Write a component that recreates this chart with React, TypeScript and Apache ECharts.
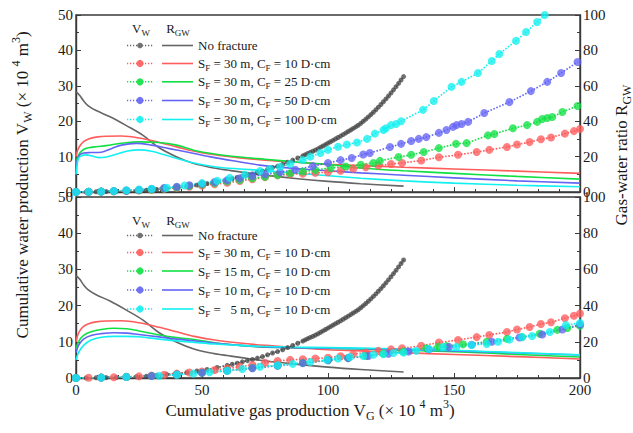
import React, { useEffect, useRef } from "react";
import * as echarts from "echarts";

const FONT = "Liberation Serif";
const TXT = "#1a1a1a";

// ---------- data (V_G in 10^4 m^3) ----------
// No fracture (shared by both panels)
const grayW = [[0,0],[4,0.02],[8,0.06],[12,0.1],[16,0.16],[20,0.25],[24,0.36],[28,0.5],[32,0.72],[36,1.0],[40,1.3],[44,1.55],[48,1.95],[52,2.35],[56,2.9],[60,3.5],[62,3.8],[64,4.1],[66,4.45],[68,4.8],[70,5.1],[72,5.5],[74,5.9],[76,6.4],[78,6.9],[80,7.3],[82,7.8],[84,8.4],[86,9.0],[88,9.6],[90,10.2],[91,10.55],[92,10.9],[93,11.2],[94,11.5],[95,11.85],[96,12.2],[97,12.6],[98,13.0],[99,13.4],[100,13.8],[101,14.2],[102,14.6],[103,15.0],[104,15.4],[105,15.8],[106,16.22],[107,16.65],[108,17.08],[109,17.52],[110,17.96],[111,18.4],[112,18.86],[113,19.4],[114,19.98],[115,20.58],[116,21.2],[117,21.85],[118,22.53],[119,23.23],[120,23.96],[121,24.71],[122,25.49],[123,26.29],[124,27.12],[125,27.97],[126,28.85],[127,29.75],[128,30.68],[129,31.63],[130,32.6]];
const grayR = [[0,56.5],[0.5,56],[1.5,54.5],[3,51.5],[5,48.5],[8,46],[13.5,42.5],[20,37.5],[26.6,32],[33,25],[40,19.8],[46.5,16.2],[53,14],[60,12.4],[73,9.8],[86,7.8],[100,6],[113,4.7],[130,3.3]];

// S_F = 30 m, C_F = 10 D·cm (shared by both panels)
const redW = [[0,0],[5,0.05],[10,0.1],[15,0.2],[20,0.3],[25,0.45],[30,0.65],[35,0.9],[40,1.2],[45,1.5],[50,1.8],[55,2.2],[60,2.6],[65,3.1],[70,3.6],[75,4.2],[80,4.7],[85,5.0],[90,5.2],[95,5.4],[100,5.6],[105,6.0],[110,6.6],[115,7.0],[120,7.5],[125,7.9],[129.4,8.2],[137,8.9],[144,9.8],[151.6,10.5],[159,11.3],[164,11.9],[171,12.7],[175,13.4],[180,14.1],[184.5,14.9],[188.5,15.4],[194,16.5],[197.6,17.2],[200,17.8]];
const redR = [[0,20],[0.5,23],[1.5,26],[3,28.5],[5,30],[8,31],[12,31.5],[18,31.6],[25,30.5],[33,28],[40,25.5],[47,23],[55,21],[65,19.3],[75,18],[87,16.8],[100,15.6],[113,15],[130,14],[150,13],[175,11.8],[200,10.5]];

// top panel: C_F = 25, 50, 100 D·cm
const green25W = [[0,0],[5,0.05],[10,0.1],[15,0.2],[20,0.35],[25,0.5],[30,0.7],[35,1],[40,1.3],[45,1.7],[50,2.1],[55,2.5],[60,3],[65,3.4],[70,3.9],[75,4.3],[80,4.8],[85,5.3],[90,5.8],[95,6.2],[101,6.8],[107,7.2],[113,7.7],[118,8.2],[120.6,8.8],[128,9.9],[133,10.5],[138,11.3],[144,12.4],[150.8,13.6],[155,13.8],[163.5,16],[166,16.4],[173.4,18],[179,18.9],[183,19.8],[185,20.6],[187,20.9],[189,21.2],[193,22.6],[199,24.3]];
const green25R = [[0,16],[0.5,19],[1.5,22],[3,24],[5,25],[8,25.6],[12,26.2],[18,27.5],[25,28.3],[33,28],[40,26.5],[47,23.5],[55,21.5],[65,19.8],[75,18.5],[87,17],[100,15.5],[113,13.6],[130,12],[150,10.5],[175,8.8],[200,7.3]];
const blue50W = [[0,0],[5,0.05],[10,0.12],[15,0.25],[20,0.4],[25,0.6],[30,0.85],[35,1.15],[40,1.5],[45,1.9],[50,2.3],[55,2.8],[60,3.3],[65,3.9],[70,4.5],[75,5],[81,5.6],[87,6.3],[94,7.3],[100,8.2],[105,9],[109.4,9.6],[114,10.6],[116.6,11],[124.6,12.7],[129,13.6],[133,14.4],[136,15],[139,15.5],[144,16.7],[147,17.5],[149.6,18.4],[151,18.9],[153,19.2],[155.6,19.8],[162,22.3],[172,25.4],[180.5,28.5],[187,31.1],[192.5,33.6],[199,36.7]];
const blue50R = [[0,14],[0.5,18],[1.5,21],[3,22],[6,22.3],[10,22.5],[14,24.5],[18,26.5],[24,27.5],[30,26.5],[37,24.5],[45,22.3],[53,20],[63,17.5],[73,15.2],[87,13.3],[100,12],[113,10.8],[130,9.5],[150,8],[175,6.3],[200,5]];
const cyan100W = [[0,0],[5,0.05],[10,0.15],[15,0.3],[20,0.5],[25,0.7],[30,0.9],[36,1.2],[43,1.8],[50,2.5],[56,3.2],[61,4],[67,4.9],[73,5.9],[77,6.5],[81,7.1],[85,7.9],[90,9],[93,10],[97,11],[100,11.9],[104,12.8],[107.5,13.4],[111.5,14],[115.5,15],[118.6,16.5],[122,17.5],[123,18],[125,18.9],[127,19.2],[129,20],[137.7,23.2],[142,25.7],[149,29.7],[153,31.1],[159.5,33.6],[165,37],[168,39],[174.6,42.7],[178.6,45.2],[183,48],[186,50],[190,52.5]];
const cyan100R = [[0,10],[0.5,16],[1,19],[2,20.3],[4,21],[6,20.5],[9,19.4],[12,19.8],[16,21.3],[20,23],[25,23.8],[30,23],[35,21],[45,17],[55,14.3],[65,13],[73,12.3],[90,10.3],[113,7.8],[130,6.3],[150,5],[175,3.8],[200,3]];

// bottom panel: C_F = 10 D·cm, S_F = 15, 10, 5 m
const green15W = [[0,0],[10,0.1],[20,0.3],[30,0.55],[40,0.95],[50,1.45],[60,2.05],[70,2.75],[80,3.45],[90,4.15],[100,4.9],[108,5.5],[115,6.1],[122,6.7],[130,7.3],[139,8.2],[143.7,8.6],[147,8.8],[153.6,9.3],[163,10],[171,10.8],[177,11.3],[184,12.2],[191,13.3],[195,13.8],[200,14.4]];
const green15R = [[0,16],[1,20],[3,23.5],[6,25.5],[10,26.8],[15,27.5],[20,27.2],[25,26],[33,23.8],[40,22.3],[47,21.3],[55,19.5],[65,18],[73,17.2],[85,16.8],[100,16.4],[113,16],[130,15.3],[150,14.5],[175,13],[200,11.6]];
const blue10W = [[0,0],[10,0.1],[20,0.28],[30,0.55],[40,0.95],[50,1.45],[60,2],[70,2.7],[80,3.4],[90,4.1],[100,4.9],[108,5.5],[116,6.1],[124,6.7],[132,7.3],[140,7.9],[148,8.6],[157,9.2],[165,10],[176,11.2],[185,12],[193,13.4],[200,14.8]];
const blue10R = [[0,14],[1,18],[3,21.5],[6,23.5],[10,24.5],[15,25],[20,24.8],[25,24],[33,22.7],[40,21.5],[47,20.5],[55,19.3],[65,18],[73,17.3],[85,16.8],[100,16.5],[113,16.2],[130,15.7],[150,15],[175,13.8],[200,12.7]];
const cyan5W = [[0,0],[10,0.1],[20,0.28],[33,0.6],[40,0.9],[46.6,1.2],[53,1.6],[60,2],[66,2.5],[73,3.1],[80,3.5],[86,3.9],[93,4.4],[99.6,5],[104,5.4],[108.7,5.8],[114,6.1],[118,6.4],[122,6.6],[126,6.9],[130,7],[135,7.5],[140,8],[145.6,8.6],[151,8.6],[157,9.1],[163,9.4],[167.5,10],[172,10.6],[177,11.3],[181,11.6],[188,12.7],[194.4,14.6],[200,15.2]];
const cyan5R = [[0,10],[1,14],[3,18],[6,21],[10,22.5],[15,23],[20,23],[25,22.8],[33,21.5],[40,20.5],[47,19.7],[55,18.8],[65,18],[73,17.5],[85,17.1],[100,16.8],[113,16.5],[130,16],[150,15.3],[175,14],[200,12.8]];

const xTicks = { min: 0, max: 200, interval: 50 };
const leftTicks = { min: 0, max: 50, interval: 10 };
const rightTicks = { min: 0, max: 100, interval: 20 };

const topCases = [["30", "10"], ["30", "25"], ["30", "50"], ["30", "100"]];
const bottomCases = [["30", "10"], ["15", "10"], ["10", "10"], ["\u00a0\u00a05", "10"]];

const GRAY = "#666666";
const RED = "#ff5c5c";
const GREEN = "#11e044";
const BLUE = "#6464f5";
const CYAN = "#12f0f0";

const richSmall = {
  n: { fontSize: 13, fontFamily: FONT, fill: TXT, lineHeight: 18 },
  s: { fontSize: 9, fontFamily: FONT, fill: TXT, verticalAlign: "bottom" },
};
const richTitle = {
  n: { fontSize: 17, fontFamily: FONT, fill: TXT, lineHeight: 24 },
  s: { fontSize: 12, fontFamily: FONT, fill: TXT, verticalAlign: "bottom" },
  p: { fontSize: 12, fontFamily: FONT, fill: TXT, verticalAlign: "top" },
};

function caseText(sf: string, cf: string) {
  return `{n|S}{s|F}{n| = ${sf} m, C}{s|F}{n| = ${cf} D·cm}`;
}

function legendBlock(headerY: number, rowYs: number[], labels: string[], colors: string[]) {
  const els: any[] = [];
  els.push({ type: "text", x: 141, y: headerY, style: { text: "{n|V}{s|W}", rich: richSmall, fontFamily: FONT, align: "center", verticalAlign: "middle" } });
  els.push({ type: "text", x: 178, y: headerY, style: { text: "{n|R}{s|GW}", rich: richSmall, fontFamily: FONT, align: "center", verticalAlign: "middle" } });
  rowYs.forEach((y, i) => {
    const c = colors[i];
    els.push({ type: "line", shape: { x1: 127, y1: y, x2: 153, y2: y }, style: { stroke: c, lineWidth: 1.5, lineDash: [1.2, 1.8] } });
    els.push({ type: "circle", shape: { cx: 140, cy: y, r: i === 0 ? 2.8 : 3.6 }, style: { fill: c, opacity: 0.9 } });
    els.push({ type: "line", shape: { x1: 162, y1: y, x2: 193, y2: y }, style: { stroke: c, lineWidth: 1.6 } });
    els.push({ type: "text", x: 198, y: y, style: { text: labels[i], rich: richSmall, fontFamily: FONT, align: "left", verticalAlign: "middle" } });
  });
  return els;
}

export default function App() {
  const ref = useRef<HTMLDivElement>(null);
  useEffect(() => {
    if (!ref.current) return;
    const chart = echarts.init(ref.current, null, { renderer: "svg" });
    const axisLineStyle = { color: "#3a3a3a", width: 1.4 };
    const xAxisBase = (gi: number, showLabel: boolean) => ({
      type: "value", gridIndex: gi, ...xTicks,
      axisLine: { show: true, onZero: false, lineStyle: axisLineStyle },
      axisTick: { show: true, inside: true, length: 5, lineStyle: { color: "#3a3a3a" } },
      minorTick: { show: true, splitNumber: 6, length: 3, lineStyle: { color: "#3a3a3a" } },
      splitLine: { show: false },
      axisLabel: { show: showLabel, fontSize: 15, fontFamily: FONT, color: TXT, margin: 4 },
    });
    const yAxisBase = (gi: number, pos: string, ticks: any) => ({
      type: "value", gridIndex: gi, position: pos, ...ticks,
      axisLine: { show: true, onZero: false, lineStyle: axisLineStyle },
      axisTick: { show: true, inside: true, length: 5, lineStyle: { color: "#3a3a3a" } },
      minorTick: { show: true, splitNumber: 2, length: 3, lineStyle: { color: "#3a3a3a" } },
      splitLine: { show: false },
      axisLabel: { fontSize: 15, fontFamily: FONT, color: TXT, margin: 3 },
    });
    const wS = (data: number[][], color: string, xi: number, yi: number, size: number, z: number) => ({
      type: "line", data, xAxisIndex: xi, yAxisIndex: yi, symbol: "circle", symbolSize: size, showSymbol: true,
      lineStyle: { type: "dotted", width: 1.6, color }, itemStyle: { color, opacity: 0.78 }, z, silent: true,
    });
    const rS = (data: number[][], color: string, xi: number, yi: number, z: number) => ({
      type: "line", data, xAxisIndex: xi, yAxisIndex: yi, symbol: "none", smooth: 0.35,
      lineStyle: { width: 1.6, color }, z, silent: true,
    });
    const titleX = "{n|Cumulative gas production V}{s|G}{n| (× 10 }{p|4}{n| m}{p|3}{n|)}";
    const titleY = "{n|Cumulative water production V}{s|W}{n| (× 10 }{p|4}{n| m}{p|3}{n|)}";
    const titleR = "{n|Gas-water ratio R}{s|GW}";
    const rowTop = [45.5, 63.5, 81.8, 100.5, 119.5];
    const rowBot = [235.5, 252.5, 271, 290, 309];
    const colors = [GRAY, RED, GREEN, BLUE, CYAN];
    const topLabels = ["{n|No fracture}", ...topCases.map((c) => caseText(c[0], c[1]))];
    const botLabels = ["{n|No fracture}", ...bottomCases.map((c) => caseText(c[0], c[1]))];
    chart.setOption({
      animation: false,
      backgroundColor: "#ffffff",
      textStyle: { fontFamily: FONT },
      grid: [
        { left: 76, top: 15, width: 504, height: 177, show: true, borderColor: "#3a3a3a", borderWidth: 1.4 },
        { left: 76, top: 197, width: 504, height: 181, show: true, borderColor: "#3a3a3a", borderWidth: 1.4 },
      ],
      xAxis: [xAxisBase(0, false), xAxisBase(1, true)],
      yAxis: [yAxisBase(0, "left", leftTicks), yAxisBase(0, "right", rightTicks), yAxisBase(1, "left", leftTicks), yAxisBase(1, "right", rightTicks)],
      series: [
        rS(grayR, GRAY, 0, 1, 2), rS(redR, RED, 0, 1, 2), rS(green25R, GREEN, 0, 1, 2), rS(blue50R, BLUE, 0, 1, 2), rS(cyan100R, CYAN, 0, 1, 2),
        wS(grayW, "#4a4a4a", 0, 0, 5, 3), wS(redW, RED, 0, 0, 8, 3), wS(green25W, GREEN, 0, 0, 8, 3), wS(blue50W, BLUE, 0, 0, 8, 3), wS(cyan100W, CYAN, 0, 0, 8, 3),
        rS(grayR, GRAY, 1, 3, 2), rS(redR, RED, 1, 3, 2), rS(green15R, GREEN, 1, 3, 2), rS(blue10R, BLUE, 1, 3, 2), rS(cyan5R, CYAN, 1, 3, 2),
        wS(grayW, "#4a4a4a", 1, 2, 5, 3), wS(redW, RED, 1, 2, 8, 3), wS(green15W, GREEN, 1, 2, 8, 3), wS(blue10W, BLUE, 1, 2, 8, 3), wS(cyan5W, CYAN, 1, 2, 8, 3),
      ],
      graphic: [
        ...legendBlock(28, rowTop, topLabels, colors),
        ...legendBlock(220, rowBot, botLabels, colors),
        { type: "text", x: 310, y: 410, style: { text: titleX, rich: richTitle, fontFamily: FONT, align: "center", verticalAlign: "middle" } },
        { type: "text", x: 22, y: 185, rotation: Math.PI / 2, style: { text: titleY, rich: richTitle, fontFamily: FONT, align: "center", verticalAlign: "middle" } },
        { type: "text", x: 621, y: 155, rotation: Math.PI / 2, style: { text: titleR, rich: richTitle, fontFamily: FONT, align: "center", verticalAlign: "middle" } },
      ],
    });
    return () => chart.dispose();
  }, []);
  return <div ref={ref} style={{ position: "absolute", left: 0, top: 0, width: 633, height: 433 }} />;
}
